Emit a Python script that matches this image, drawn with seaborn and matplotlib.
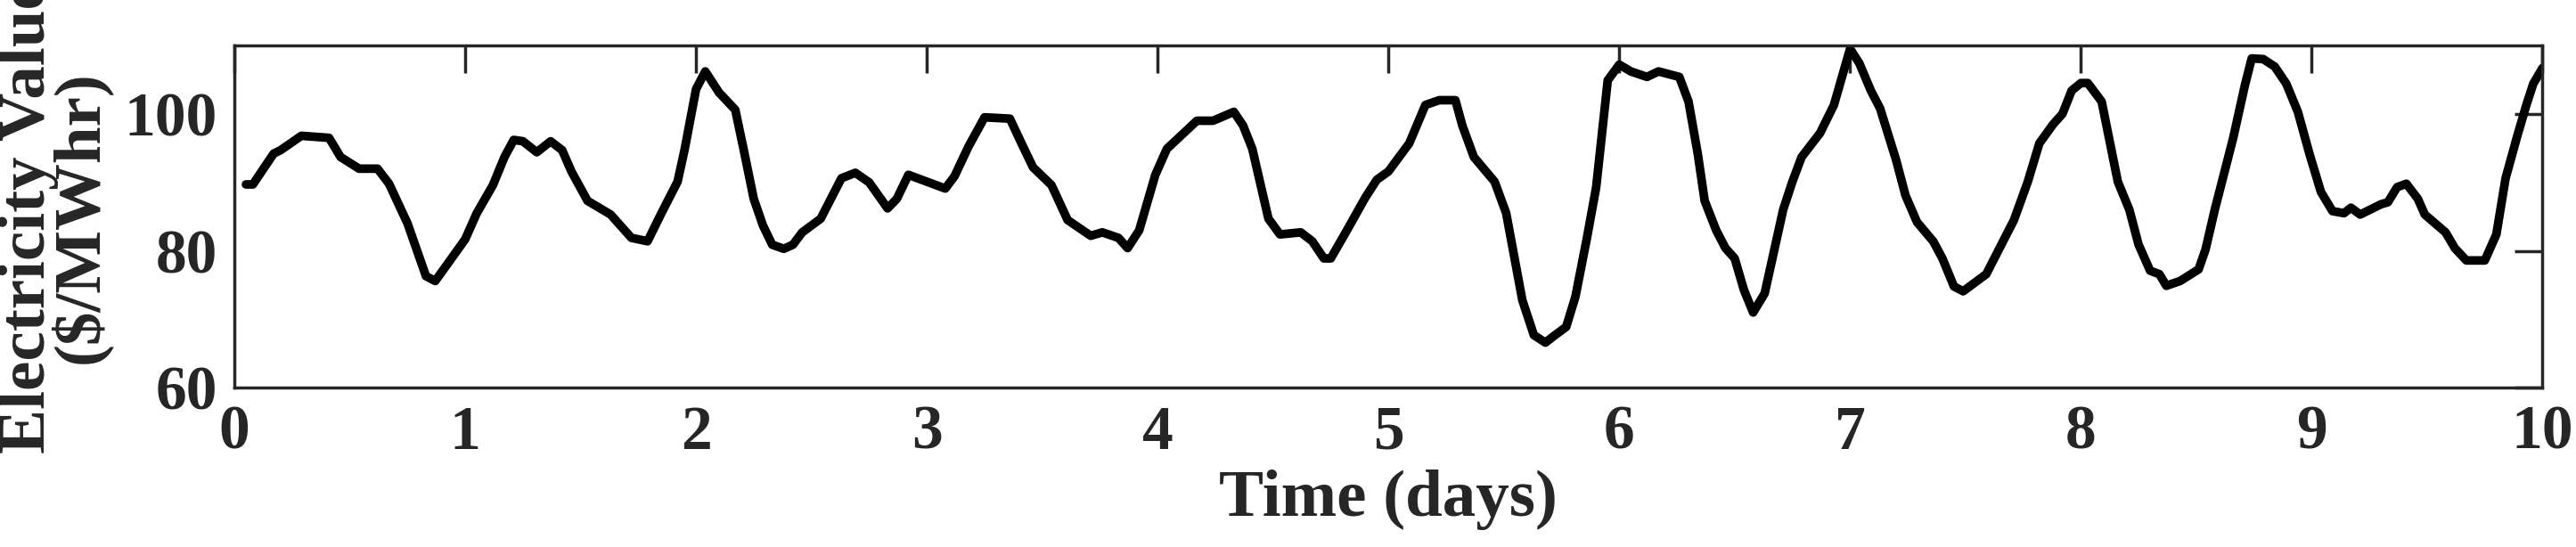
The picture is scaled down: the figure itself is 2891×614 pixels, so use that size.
import matplotlib
matplotlib.use("Agg")
import matplotlib.pyplot as plt
import seaborn as sns
import pandas as pd

days = [0.05,0.08,0.17,0.2,0.29,0.41,0.46,0.54,0.62,0.67,0.75,0.83,0.87,0.93,1.0,1.05,1.12,1.17,1.21,1.25,1.31,1.37,1.42,1.46,1.53,1.63,1.72,1.79,1.85,1.92,1.95,2.0,2.04,2.1,2.17,2.21,2.25,2.29,2.33,2.38,2.42,2.46,2.54,2.63,2.69,2.75,2.83,2.87,2.92,3.0,3.08,3.12,3.18,3.25,3.36,3.41,3.46,3.54,3.61,3.71,3.76,3.83,3.87,3.92,3.99,4.04,4.17,4.24,4.33,4.37,4.41,4.48,4.53,4.62,4.67,4.72,4.75,4.82,4.9,4.95,5.0,5.09,5.16,5.22,5.29,5.32,5.37,5.46,5.51,5.58,5.63,5.68,5.71,5.77,5.81,5.86,5.9,5.95,6.0,6.05,6.12,6.17,6.26,6.3,6.34,6.37,6.42,6.46,6.5,6.54,6.58,6.63,6.68,6.71,6.75,6.79,6.87,6.93,7.0,7.04,7.09,7.13,7.2,7.24,7.29,7.36,7.4,7.45,7.49,7.59,7.66,7.71,7.77,7.82,7.88,7.92,7.96,8.0,8.03,8.09,8.16,8.21,8.25,8.3,8.34,8.37,8.43,8.51,8.54,8.58,8.66,8.71,8.74,8.79,8.84,8.89,8.94,8.99,9.04,9.09,9.14,9.17,9.21,9.3,9.33,9.37,9.41,9.46,9.49,9.58,9.62,9.67,9.75,9.8,9.84,9.89,9.93,9.96,10.0]
values = [89.7,89.7,94.2,94.7,96.8,96.5,93.7,92.0,92.0,89.8,84.0,76.3,75.6,78.4,81.7,85.5,89.6,93.7,96.2,96.0,94.4,96.0,94.7,91.6,87.3,85.3,81.9,81.4,85.5,90.1,94.7,103.6,106.2,103.1,100.6,94.2,87.6,83.7,80.9,80.3,80.9,82.7,84.7,90.6,91.4,90.0,86.2,87.6,91.1,90.1,89.1,90.9,95.2,99.5,99.3,95.7,92.2,89.6,84.5,82.2,82.7,81.9,80.4,83.0,91.1,94.9,99.0,99.0,100.3,98.3,94.9,84.7,82.4,82.7,81.4,78.9,78.9,83.0,87.8,90.4,91.6,95.7,101.3,102.0,102.0,98.3,93.7,90.1,85.5,72.8,67.7,66.6,67.4,68.9,73.3,81.9,89.3,104.9,107.2,106.2,105.4,106.2,105.4,101.8,94.2,87.3,83.0,80.4,78.9,74.3,71.0,73.8,81.4,86.0,90.1,93.7,97.2,101.3,109.5,107.4,103.4,100.8,93.2,88.1,84.2,81.4,78.9,74.8,74.1,76.6,81.2,84.5,90.1,95.7,98.5,100.0,103.4,104.5,104.5,101.8,90.1,86.0,80.9,77.1,76.6,74.9,75.6,77.3,80.2,86.0,96.5,104.1,108.1,108.0,106.9,104.4,100.3,94.2,88.6,85.8,85.5,86.3,85.3,86.8,87.1,89.3,89.8,87.6,85.3,82.7,80.4,78.6,78.6,82.4,90.6,96.7,101.3,104.4,106.7]

xticks = list(range(0, 11))
yticks = [60, 80, 100]

sns.set_theme(style="white")
plt.rcParams['font.family'] = ['Liberation Serif', 'DejaVu Serif']
plt.rcParams['font.weight'] = 'bold'

df = pd.DataFrame({"t": days, "v": values})
fig = plt.figure(figsize=(28.91, 6.14), dpi=100)
ax = fig.add_axes([0.091, 0.291, 0.896, 0.626])
sns.lineplot(data=df, x="t", y="v", ax=ax, color="black", linewidth=7)
ax.set_xlim(0, 10)
ax.set_ylim(60, 110)
ax.set_xticks(xticks)
ax.set_yticks(yticks)
ax.set_xticklabels([str(t) for t in xticks], fontsize=50, fontweight='bold', color='#262626')
ax.set_yticklabels([str(t) for t in yticks], fontsize=50, fontweight='bold', color='#262626')
ax.tick_params(direction='in', length=22, width=2.5, top=True, right=True, color='#262626', pad=14)
for s in ax.spines.values():
    s.set_linewidth(2.5)
    s.set_color('#262626')
ax.set_xlabel("Time (days)", fontsize=54, fontweight='bold', color='#262626', labelpad=6)
ax.set_ylabel("Electricity Value\n($/MWhr)", fontsize=54, fontweight='bold', color='#262626', labelpad=10, linespacing=0.8)
fig.savefig("out.png", dpi=100)
